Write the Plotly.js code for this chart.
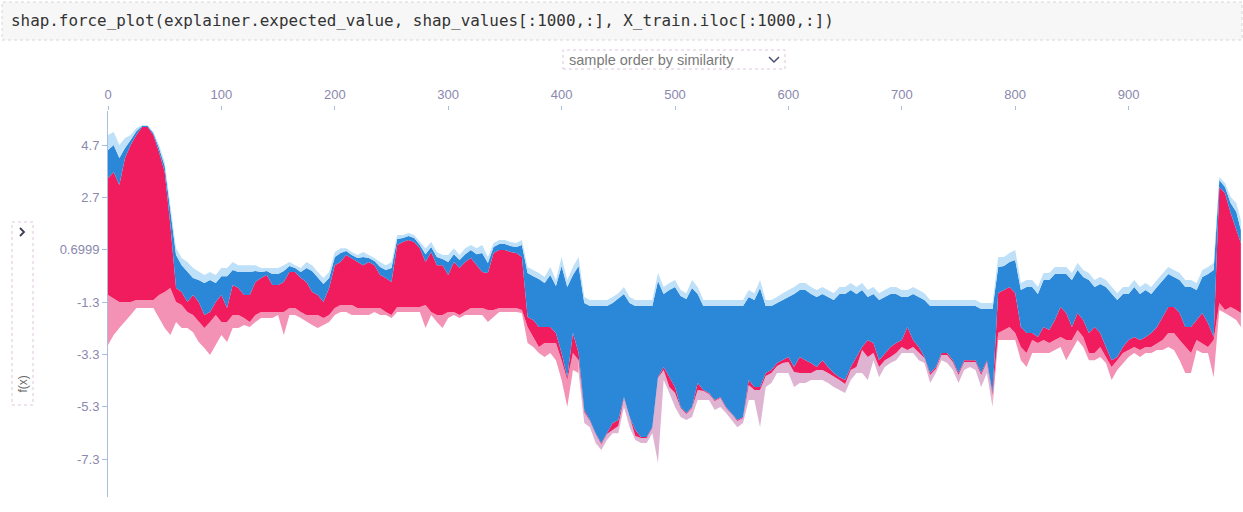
<!DOCTYPE html>
<html>
<head>
<meta charset="utf-8">
<script src="https://cdn.plot.ly/plotly-3.0.1.min.js"></script>
<style>
  html, body { margin: 0; padding: 0; background: #ffffff; }
  #chart { width: 1243px; height: 512px; }
</style>
</head>
<body>
<div id="chart"></div>
<script>
// ---- data (every 5th sample) ----
const sampleIndex = [
  0,5,10,15,20,25,30,35,40,45, 50,55,60,65,70,75,80,85,90,95,
  100,105,110,115,120,125,130,135,140,145, 150,155,160,165,170,175,180,185,190,195,
  200,205,210,215,220,225,230,235,240,245, 250,255,260,265,270,275,280,285,290,295,
  300,305,310,315,320,325,330,335,340,345, 350,355,360,365,370,375,380,385,390,395,
  400,405,410,415,420,425,430,435,440,445, 450,455,460,465,470,475,480,485,490,495,
  500,505,510,515,520,525,530,535,540,545, 550,555,560,565,570,575,580,585,590,595,
  600,605,610,615,620,625,630,635,640,645, 650,655,660,665,670,675,680,685,690,695,
  700,705,710,715,720,725,730,735,740,745, 750,755,760,765,770,775,780,785,790,795,
  800,805,810,815,820,825,830,835,840,845, 850,855,860,865,870,875,880,885,890,895,
  900,905,910,915,920,925,930,935,940,945, 950,955,960,965,970,975,980,985,990,995,
  999];

// outer top of the negative (blue) stack
const topLight = [
  5.08,5.20,4.70,4.97,5.08,5.35,5.46,5.46,5.20,4.70, 4.05,2.41,0.76,0.38,0.23,0.00,-0.15,-0.27,-0.15,-0.27,
  0.00,0.00,0.23,0.11,0.11,0.11,0.11,0.00,0.00,0.00, 0.00,0.11,0.23,0.11,0.00,0.23,0.11,-0.15,-0.38,-0.15,
  0.61,0.76,0.76,0.61,0.50,0.61,0.50,0.38,0.23,0.11, 0.23,1.26,1.26,1.34,1.26,0.99,0.76,0.99,0.61,0.50,
  0.50,0.76,0.50,0.76,0.88,0.76,0.88,0.42,0.96,1.07, 1.07,0.99,0.96,1.07,0.04,-0.08,-0.19,-0.34,0.04,-0.46,
  0.42,-0.46,0.04,0.42,-1.11,-1.22,-1.22,-1.22,-1.22,-1.11, -0.96,-0.73,-1.11,-1.22,-1.22,-1.22,-1.22,-0.19,-0.73,-0.57,
  -0.46,-0.84,-0.96,-0.46,-0.73,-1.22,-1.22,-1.22,-1.22,-1.22, -1.22,-1.22,-1.22,-0.84,-0.96,-0.46,-1.22,-1.22,-1.11,-0.96,
  -0.84,-0.73,-0.57,-0.57,-0.73,-0.84,-0.73,-0.84,-0.96,-0.73, -0.73,-0.57,-0.73,-0.57,-0.84,-0.73,-0.96,-0.84,-0.73,-0.73,
  -0.84,-0.84,-0.73,-0.84,-0.96,-1.22,-1.22,-1.22,-1.22,-1.22, -1.22,-1.22,-1.22,-1.22,-1.34,-1.34,-1.34,0.42,0.42,0.57,
  0.69,-0.57,-0.46,-0.46,-0.73,-0.19,-0.19,0.04,0.04,0.04, -0.19,0.19,-0.08,-0.19,-0.46,-0.34,-0.46,-0.73,-0.96,-0.73,
  -0.73,-0.46,-0.73,-0.57,-0.73,-0.46,-0.19,0.04,-0.08,-0.19, -0.46,-0.46,-0.57,-0.08,0.04,0.19,3.48,3.25,2.71,2.48,
  1.83];

// boundary between the small (light) and large (dark) negative features
const topDark = [
  4.51,4.70,4.20,4.59,4.89,5.23,5.43,5.43,5.16,4.59, 3.90,2.14,0.50,0.11,-0.15,-0.38,-0.46,-0.57,-0.46,-0.57,
  -0.31,-0.31,-0.08,-0.15,-0.15,-0.15,-0.11,-0.15,-0.11,-0.23, -0.23,-0.11,0.08,0.00,-0.15,0.00,-0.11,-0.38,-0.61,-0.38,
  0.42,0.57,0.65,0.50,0.38,0.42,0.38,0.27,0.04,-0.08, 0.00,1.11,1.15,1.22,1.15,0.88,0.53,0.80,0.42,0.34,
  0.23,0.53,0.31,0.53,0.69,0.53,0.57,0.19,0.80,0.92, 0.92,0.84,0.80,0.88,-0.19,-0.31,-0.42,-0.57,-0.27,-0.69,
  0.08,-0.73,-0.27,0.08,-1.34,-1.45,-1.45,-1.45,-1.45,-1.34, -1.18,-0.99,-1.34,-1.45,-1.45,-1.45,-1.45,-0.50,-0.99,-0.84,
  -0.73,-1.07,-1.18,-0.76,-0.99,-1.45,-1.45,-1.45,-1.45,-1.45, -1.45,-1.45,-1.45,-1.11,-1.22,-0.76,-1.45,-1.45,-1.34,-1.22,
  -1.11,-0.99,-0.84,-0.84,-0.99,-1.11,-0.99,-1.11,-1.22,-0.99, -0.99,-0.84,-0.99,-0.84,-1.11,-0.99,-1.22,-1.11,-0.99,-0.99,
  -1.11,-1.11,-0.99,-1.11,-1.22,-1.45,-1.45,-1.45,-1.45,-1.45, -1.45,-1.45,-1.45,-1.45,-1.57,-1.57,-1.57,0.04,0.08,0.23,
  0.31,-0.84,-0.73,-0.73,-0.99,-0.46,-0.46,-0.23,-0.23,-0.23, -0.46,-0.08,-0.34,-0.46,-0.73,-0.61,-0.73,-0.99,-1.22,-0.99,
  -0.99,-0.73,-0.99,-0.84,-0.99,-0.73,-0.46,-0.23,-0.34,-0.46, -0.73,-0.73,-0.84,-0.34,-0.23,-0.08,3.36,3.10,2.48,2.14,
  1.45];

// model output f(x): positive (red) features below it, negative (blue) above it
const fx = [
  3.44,3.67,3.17,4.20,4.70,5.08,5.39,5.39,5.08,4.43, 3.67,1.64,-0.76,-0.92,-1.30,-1.03,-1.30,-1.80,-1.68,-1.30,
  -1.03,-1.53,-0.65,-0.76,-1.03,-1.03,-0.53,-0.38,-0.27,-0.65, -0.65,-0.53,-0.15,-0.15,-0.38,-0.53,-0.92,-1.03,-1.30,-0.76,
  0.11,0.23,0.50,0.38,0.23,0.11,0.23,0.11,-0.27,-0.38, -0.53,0.88,0.99,1.07,0.99,0.76,0.23,0.61,0.11,0.11,
  -0.27,0.23,0.00,0.23,0.38,0.11,-0.15,-0.19,0.57,0.69, 0.69,0.61,0.57,0.42,-1.87,-1.99,-2.25,-2.25,-2.25,-2.48,
  -3.25,-4.17,-2.48,-3.25,-5.43,-5.81,-6.31,-6.69,-6.31,-5.92, -5.81,-4.93,-5.69,-6.19,-6.46,-6.46,-6.08,-4.17,-3.78,-4.17,
  -4.55,-5.31,-5.54,-5.31,-4.39,-4.66,-4.78,-5.04,-4.93,-5.31, -5.54,-5.81,-5.69,-4.28,-4.55,-4.55,-4.01,-3.90,-3.63,-3.52,
  -3.40,-3.78,-3.40,-3.52,-3.63,-3.78,-3.52,-3.78,-4.01,-4.17, -4.28,-3.78,-3.40,-3.02,-2.75,-2.87,-3.52,-3.25,-3.02,-2.87,
  -2.75,-2.25,-2.75,-3.02,-3.40,-4.01,-3.78,-3.25,-3.25,-3.52, -4.01,-3.52,-3.52,-3.52,-4.01,-3.52,-4.78,-0.95,-0.84,-0.73,
  -0.95,-2.25,-2.48,-2.48,-2.64,-2.25,-2.37,-1.99,-1.49,-1.72, -2.25,-1.72,-1.99,-2.48,-2.25,-2.48,-3.02,-3.52,-3.40,-3.02,
  -2.75,-2.64,-2.75,-2.64,-2.48,-2.25,-1.87,-1.49,-1.49,-1.72, -2.25,-2.25,-1.99,-1.72,-2.10,-2.64,3.10,2.87,2.10,1.45,
  0.96];

// boundary between the large (dark) and small (light) positive features
const bottomDark = [
  -1.03,-1.15,-1.30,-1.30,-1.30,-1.22,-1.22,-1.22,-1.22,-1.03, -0.92,-0.76,-1.30,-1.41,-1.68,-1.80,-2.06,-2.29,-2.06,-1.80,
  -2.06,-2.06,-1.80,-1.80,-1.91,-2.06,-1.80,-1.68,-1.68,-1.68, -1.68,-1.68,-1.53,-1.53,-1.68,-1.80,-1.80,-1.80,-1.91,-1.80,
  -1.53,-1.41,-1.41,-1.41,-1.53,-1.53,-1.53,-1.53,-1.53,-1.68, -1.80,-1.49,-1.49,-1.49,-1.49,-1.49,-1.41,-1.68,-1.80,-1.80,
  -1.68,-1.68,-1.80,-1.68,-1.53,-1.53,-1.53,-1.60,-1.60,-1.53, -1.53,-1.53,-1.53,-1.60,-2.25,-2.64,-3.02,-2.87,-2.87,-2.87,
  -3.52,-4.28,-3.25,-3.52,-5.50,-5.85,-6.34,-6.73,-6.34,-6.19, -6.04,-4.97,-5.73,-6.42,-6.50,-6.50,-6.11,-4.20,-3.90,-4.55,
  -4.78,-5.35,-5.58,-5.35,-4.66,-4.70,-4.81,-5.08,-4.97,-5.35, -5.58,-5.85,-5.73,-4.47,-4.66,-4.66,-4.13,-4.01,-3.74,-3.63,
  -3.59,-3.97,-4.01,-4.01,-4.01,-3.90,-3.90,-4.01,-4.13,-4.28, -4.43,-3.90,-3.78,-3.13,-3.40,-3.25,-3.78,-3.52,-3.40,-3.25,
  -3.02,-3.13,-3.02,-3.25,-3.44,-4.09,-3.86,-3.32,-3.32,-3.59, -4.09,-3.59,-3.59,-3.59,-4.09,-3.59,-4.85,-2.48,-2.37,-2.25,
  -2.48,-3.02,-3.25,-2.75,-2.87,-2.75,-2.87,-2.75,-2.64,-2.75, -2.75,-2.37,-2.64,-3.25,-3.25,-3.02,-3.40,-3.78,-3.52,-3.25,
  -3.13,-3.02,-3.13,-3.02,-3.02,-2.87,-2.75,-2.48,-2.48,-2.75, -3.02,-3.25,-2.75,-2.87,-3.02,-2.75,-1.34,-1.60,-1.49,-1.60,
  -1.72];

// outer bottom of the positive (red) stack
const bottomLight = [
  -2.94,-2.56,-2.29,-2.06,-1.80,-1.53,-1.53,-1.53,-1.53,-1.91, -2.29,-2.56,-2.06,-2.29,-2.29,-2.45,-2.83,-3.06,-3.32,-2.94,
  -2.56,-2.83,-2.29,-2.29,-2.18,-2.25,-2.06,-1.91,-1.91,-1.91, -1.80,-2.56,-1.80,-1.80,-1.91,-2.06,-2.18,-2.29,-2.18,-2.06,
  -1.80,-1.68,-1.68,-1.80,-1.80,-1.80,-1.80,-1.68,-1.80,-1.80, -1.91,-1.68,-1.68,-1.68,-1.68,-1.68,-2.29,-1.80,-2.06,-2.29,
  -1.91,-1.80,-1.91,-1.80,-1.80,-1.80,-1.80,-2.06,-1.87,-1.68, -1.68,-1.68,-1.68,-1.72,-2.87,-3.02,-3.25,-3.40,-3.25,-3.52,
  -4.28,-5.31,-3.90,-4.01,-5.92,-6.08,-6.69,-6.95,-6.57,-6.31, -6.31,-5.31,-6.08,-6.57,-6.69,-6.69,-6.31,-7.45,-4.28,-4.78,
  -5.31,-5.69,-5.81,-5.69,-5.04,-5.04,-5.04,-5.43,-5.31,-5.54, -5.81,-6.08,-5.92,-5.04,-5.04,-6.08,-4.55,-4.39,-4.01,-4.01,
  -4.01,-4.55,-4.39,-4.39,-4.28,-4.28,-4.28,-4.39,-4.55,-4.66, -4.78,-4.28,-4.01,-4.01,-4.28,-3.52,-4.17,-3.78,-3.63,-3.52,
  -3.25,-3.25,-3.25,-3.52,-3.63,-4.39,-4.01,-3.52,-3.63,-3.90, -4.39,-3.90,-3.78,-3.90,-4.55,-4.01,-5.31,-2.75,-2.75,-2.75,
  -2.75,-3.52,-3.78,-3.25,-3.25,-3.25,-3.25,-3.13,-3.02,-3.52, -3.13,-2.75,-3.02,-3.52,-3.52,-3.40,-3.63,-4.28,-3.90,-3.63,
  -3.40,-3.25,-3.40,-3.25,-3.25,-3.13,-3.13,-3.02,-3.13,-3.52, -4.01,-4.01,-3.13,-3.25,-3.25,-4.17,-1.60,-1.72,-1.87,-1.99,
  -2.25];

// the sample ranges where the faint positive tail sits under a mostly-blue stack
const mutedTailStart = 415;
const mutedTailEnd = 780;

const yTickVals = [4.7, 2.7, 0.6999, -1.3, -3.3, -5.3, -7.3];
const yTickText = ['4.7', '2.7', '0.6999', '-1.3', '-3.3', '-5.3', '-7.3'];
const xTickVals = [0, 100, 200, 300, 400, 500, 600, 700, 800, 900];
const xTickText = ['0', '100', '200', '300', '400', '500', '600', '700', '800', '900'];

const codeLine = 'shap.force_plot(explainer.expected_value, shap_values[:1000,:], X_train.iloc[:1000,:])';
const dropdownLabel = 'sample order by similarity';
const yLabel = 'f(x)';

// ---- styling ----
const W = 1243, H = 512;
const px = v => v / W;
const py = v => 1 - v / H;

const colPink = 'rgb(244,146,182)';
const colLavender = 'rgb(222,180,210)';
const colRed = 'rgb(240,28,94)';
const colBlue = 'rgb(43,136,216)';
const colLightBlue = 'rgb(190,224,248)';

function line(x, y, fillcolor) {
  return {
    x: x, y: y, type: 'scatter', mode: 'lines',
    line: { width: 0, color: fillcolor || '#ffffff', shape: 'linear' },
    fill: fillcolor ? 'tonexty' : 'none',
    fillcolor: fillcolor || undefined,
    hoverinfo: 'skip', showlegend: false
  };
}

const iA = sampleIndex.indexOf(mutedTailStart);
const iB = sampleIndex.indexOf(mutedTailEnd);
const part = (arr, a, b) => arr.slice(a, b + 1);
const last = sampleIndex.length - 1;

const traces = [
  // faint positive tail, in three pieces so the middle one can be muted
  line(part(sampleIndex, 0, iA), part(bottomLight, 0, iA), null),
  line(part(sampleIndex, 0, iA), part(bottomDark, 0, iA), colPink),
  line(part(sampleIndex, iA, iB), part(bottomLight, iA, iB), null),
  line(part(sampleIndex, iA, iB), part(bottomDark, iA, iB), colLavender),
  line(part(sampleIndex, iB, last), part(bottomLight, iB, last), null),
  line(part(sampleIndex, iB, last), part(bottomDark, iB, last), colPink),
  // full stack
  line(sampleIndex, bottomDark, null),
  line(sampleIndex, fx, colRed),
  line(sampleIndex, topDark, colBlue),
  line(sampleIndex, topLight, colLightBlue)
];

const axisCol = '#a9bde3';
const tickFont = { family: 'Liberation Sans, Arial, sans-serif', size: 13, color: '#8a88ad' };

const layout = {
  width: W, height: H,
  margin: { l: 0, r: 0, t: 0, b: 0, pad: 0 },
  paper_bgcolor: '#ffffff', plot_bgcolor: '#ffffff',
  showlegend: false,
  xaxis: {
    domain: [px(108), px(1242)],
    range: [0, 1000],
    side: 'top',
    showgrid: false, zeroline: false, showline: false,
    ticks: 'outside', ticklen: 4, tickcolor: axisCol, tickwidth: 1,
    tickvals: xTickVals, ticktext: xTickText,
    tickfont: tickFont,
    ticklabelstandoff: 2,
    fixedrange: true
  },
  yaxis: {
    domain: [1 - 497 / H, 1 - 111 / H],
    range: [-8.75, 6.0],
    showgrid: false, zeroline: false,
    showline: true, linecolor: axisCol, linewidth: 1,
    ticks: 'outside', ticklen: 5, tickcolor: axisCol, tickwidth: 1,
    tickvals: yTickVals, ticktext: yTickText,
    tickfont: tickFont,
    fixedrange: true
  },
  shapes: [
    { type: 'rect', xref: 'paper', yref: 'paper', x0: px(2), x1: px(1242), y0: py(40), y1: py(2),
      fillcolor: '#f7f7f7', line: { color: '#d6d6d6', width: 1, dash: 'dot' }, layer: 'below' },
    { type: 'rect', xref: 'paper', yref: 'paper', x0: px(563), x1: px(785), y0: py(69), y1: py(50),
      fillcolor: 'rgba(0,0,0,0)', line: { color: '#dcc6dc', width: 1, dash: 'dot' } },
    { type: 'path', xref: 'paper', yref: 'paper',
      path: `M ${px(769)} ${py(57)} L ${px(774)} ${py(62)} L ${px(779)} ${py(57)}`,
      line: { color: '#4a5070', width: 1.5 } },
    { type: 'rect', xref: 'paper', yref: 'paper', x0: px(12), x1: px(33), y0: py(405), y1: py(222),
      fillcolor: 'rgba(0,0,0,0)', line: { color: '#dcc6dc', width: 1, dash: 'dot' } },
    { type: 'path', xref: 'paper', yref: 'paper',
      path: `M ${px(20)} ${py(228)} L ${px(24)} ${py(232)} L ${px(20)} ${py(236)}`,
      line: { color: '#3a3f55', width: 1.8 } }
  ],
  annotations: [
    { xref: 'paper', yref: 'paper', x: px(9), y: py(20), xanchor: 'left', yanchor: 'middle',
      text: codeLine, showarrow: false,
      font: { family: 'DejaVu Sans Mono, Liberation Mono, monospace', size: 15.9, color: '#333333' } },
    { xref: 'paper', yref: 'paper', x: px(567), y: py(60), xanchor: 'left', yanchor: 'middle',
      text: dropdownLabel, showarrow: false,
      font: { family: 'Liberation Sans, Arial, sans-serif', size: 14.5, color: '#7a7a7a' } },
    { xref: 'paper', yref: 'paper', x: px(22.5), y: py(384), xanchor: 'center', yanchor: 'middle',
      text: yLabel, showarrow: false, textangle: -90,
      font: { family: 'Liberation Sans, Arial, sans-serif', size: 12, color: '#666666' } }
  ]
};

Plotly.newPlot('chart', traces, layout, { staticPlot: true, displayModeBar: false });
</script>
</body>
</html>
